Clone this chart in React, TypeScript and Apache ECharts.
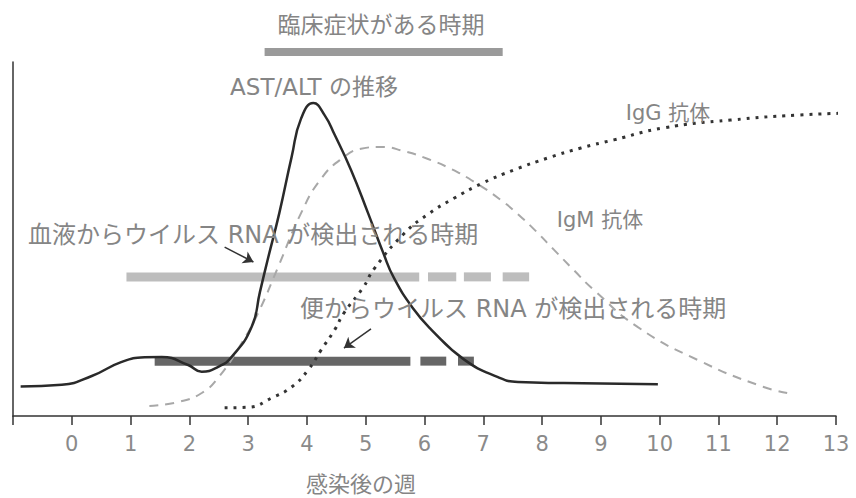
import React, { useEffect, useRef } from "react";
import * as echarts from "echarts";

// x: weeks after infection, y: relative level (0-100)
const astAlt: [number, number][] = [
  [-0.87, 8.3], [-0.17, 8.8], [0.34, 11.3], [0.85, 15.3], [1.24, 16.6], [1.53, 16.7],
  [1.98, 14.4], [2.21, 12.5], [2.49, 13.9], [2.72, 16.7], [3.06, 25.2], [3.2, 35.0],
  [3.33, 44.0], [3.53, 57.3], [3.74, 73.2], [3.9, 84.0], [4.11, 88.4], [4.3, 85.0],
  [4.47, 79.5], [4.75, 69.5], [5.04, 57.3], [5.3, 46.0], [5.48, 39.0], [5.8, 30.5],
  [6.11, 24.5], [6.67, 16.0], [7.25, 11.0], [7.59, 9.6], [8.37, 9.3], [9.97, 9.0],
];
const igm: [number, number][] = [
  [1.32, 2.8], [1.82, 4.0], [2.21, 6.5], [2.5, 11.0], [2.89, 20.6], [3.17, 29.1],
  [3.51, 42.1], [3.9, 57.3], [4.24, 67.0], [4.6, 72.8], [4.92, 75.5], [5.26, 76.0],
  [5.65, 74.8], [6.06, 72.6], [6.45, 69.8], [6.84, 66.2], [7.3, 61.0], [7.59, 57.0],
  [7.86, 52.8], [8.2, 47.0], [8.54, 41.2], [8.88, 35.6], [9.63, 25.1],
  [10.65, 15.8], [11.77, 8.2], [12.28, 6.2],
];
const igg: [number, number][] = [
  [2.6, 2.3], [3.01, 2.5], [3.4, 5.1], [3.74, 8.2], [4.02, 13.0], [4.24, 18.6],
  [4.47, 24.3], [4.63, 29.1], [4.96, 36.4], [5.14, 41.5], [5.65, 51.5], [6.06, 57.0],
  [6.5, 61.5], [6.99, 65.8], [7.52, 69.5], [8.1, 72.9], [8.66, 75.7], [9.22, 78.0],
  [10.07, 81.4], [11.21, 83.6], [12.34, 85.0], [13.29, 85.6],
];
// detection periods: [start, end] segments and level
const clinicalSegments: [number, number][] = [[3.28, 7.33]];
const clinicalLevel = 102.8;
const bloodSegments: [number, number][] = [[0.93, 5.91], [6.06, 6.54], [6.67, 7.13], [7.33, 7.78]];
const bloodLevel = 39.3;
const stoolSegments: [number, number][] = [[1.41, 5.76], [5.93, 6.37], [6.57, 6.84]];
const stoolLevel = 15.5;
// annotation arrows: [x0, y0, x1, y1]
const arrows: [number, number, number, number][] = [
  [2.6, 47.7, 3.09, 43.5],
  [5.09, 24.6, 4.63, 19.2],
];
const xTicks = [-1, 13];

const FONT = "'DejaVu Sans', 'Noto Sans CJK JP', sans-serif";
const TXT = "#858585";

function segSeries(segs: [number, number][], level: number, color: string, width: number) {
  return segs.map((s) => ({
    type: "line",
    data: [[s[0], level], [s[1], level]],
    showSymbol: false,
    symbol: "none",
    clip: false,
    lineStyle: { color, width, cap: "butt" },
    z: 2,
  }));
}

export default function App() {
  const ref = useRef<HTMLDivElement>(null);
  useEffect(() => {
    const chart = echarts.init(ref.current!, null, { renderer: "svg" });
    const text = (t: string, x: number, y: number, size: number, align = "center") => ({
      type: "text",
      x,
      y,
      style: { text: t, fill: TXT, font: `${size}px ${FONT}`, textAlign: align, textVerticalAlign: "middle" },
      z: 10,
    });
    chart.setOption({
      animation: false,
      grid: { left: 13, right: 20, top: 62, bottom: 82 },
      xAxis: {
        type: "value",
        min: xTicks[0],
        max: xTicks[1],
        interval: 1,
        axisLine: { show: true, onZero: false, lineStyle: { color: "#333", width: 1.5 } },
        axisTick: { show: true, length: 9, lineStyle: { color: "#333", width: 1.5 } },
        axisLabel: {
          color: "#8a8a8a",
          fontSize: 21,
          fontFamily: FONT,
          margin: 17,
          formatter: (v: number) => (v < 0 ? "" : String(v)),
        },
        splitLine: { show: false },
      },
      yAxis: {
        type: "value",
        min: 0,
        max: 100,
        axisLine: { show: true, onZero: false, lineStyle: { color: "#333", width: 1.5 } },
        axisTick: { show: false },
        axisLabel: { show: false },
        splitLine: { show: false },
      },
      series: [
        ...segSeries(clinicalSegments, clinicalLevel, "#9a9a9a", 8),
        ...segSeries(bloodSegments, bloodLevel, "#bdbdbd", 9),
        ...segSeries(stoolSegments, stoolLevel, "#666", 9),
        {
          type: "line",
          data: igm,
          smooth: true,
          showSymbol: false,
          symbol: "none",
          clip: false,
          lineStyle: { color: "#a8a8a8", width: 2, type: [9, 7] },
          z: 3,
        },
        {
          type: "line",
          data: igg,
          smooth: true,
          showSymbol: false,
          symbol: "none",
          clip: false,
          lineStyle: { color: "#333", width: 3, type: [3, 6] },
          z: 4,
        },
        {
          type: "line",
          data: astAlt,
          smooth: true,
          showSymbol: false,
          symbol: "none",
          clip: false,
          lineStyle: { color: "#2a2a2a", width: 2.5 },
          z: 5,
        },
        {
          type: "lines",
          coordinateSystem: "cartesian2d",
          symbol: ["none", "arrow"],
          symbolSize: 10,
          lineStyle: { color: "#333", width: 1.5, opacity: 1 },
          data: arrows.map((a) => ({ coords: [[a[0], a[1]], [a[2], a[3]]] })),
          z: 6,
        },
      ],
      graphic: [
        text("臨床症状がある時期", 381, 25, 23),
        text("AST/ALT の推移", 314, 87, 23),
        text("IgG 抗体", 668, 113, 21),
        text("IgM 抗体", 600, 220, 21),
        text("血液からウイルス RNA が検出される時期", 28, 235, 24, "left"),
        text("便からウイルス RNA が検出される時期", 300, 309, 24, "left"),
        text("感染後の週", 361, 484, 22),
      ],
    });
    return () => chart.dispose();
  }, []);
  return <div ref={ref} style={{ width: 856, height: 498, position: "absolute", left: 0, top: 0 }} />;
}
